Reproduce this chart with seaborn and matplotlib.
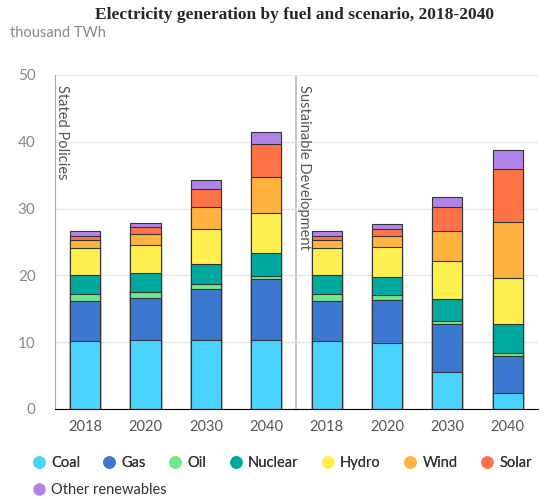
import numpy as np
import pandas as pd
import seaborn as sns
import matplotlib.pyplot as plt
from matplotlib.lines import Line2D

# data (thousand TWh)
years = ["2018", "2020", "2030", "2040"]
scenarios = ["Stated Policies", "Sustainable Development"]
fuels = ["Coal", "Gas", "Oil", "Nuclear", "Hydro", "Wind", "Solar", "Other renewables"]
colors = ["#4ad3ff", "#3d78d0", "#6de88b", "#00a99d", "#fff04f", "#ffb33f", "#ff7346", "#b084ea"]

coal    = [10.2, 10.4, 10.4, 10.4, 10.2, 9.9, 5.6, 2.4]
gas     = [6.0, 6.2, 7.6, 9.0, 6.0, 6.4, 7.1, 5.6]
oil     = [1.0, 0.9, 0.7, 0.5, 1.0, 0.7, 0.4, 0.4]
nuclear = [2.8, 2.8, 3.0, 3.5, 2.8, 2.8, 3.4, 4.3]
hydro   = [4.1, 4.3, 5.3, 6.0, 4.1, 4.5, 5.7, 6.9]
wind    = [1.2, 1.6, 3.2, 5.4, 1.2, 1.6, 4.4, 8.4]
solar   = [0.6, 1.0, 2.7, 4.8, 0.6, 1.0, 3.6, 8.0]
other   = [0.8, 0.6, 1.4, 1.9, 0.8, 0.8, 1.6, 2.8]

series = [coal, gas, oil, nuclear, hydro, wind, solar, other]
cats = [f"{s[:2]} {y}" for s in ["SP", "SD"] for y in years]
df = pd.DataFrame(dict(zip(fuels, series)), index=cats)
cum = df.cumsum(axis=1)

sns.set_style("white")
plt.rcParams["font.family"] = ["Lato", "DejaVu Sans"]

fig = plt.figure(figsize=(5.5, 4.99), dpi=100)
ax = fig.add_axes([0.1, 0.1804, 0.878, 0.6693])

# stacked bars: draw cumulative totals from the top layer down
for fuel, col in reversed(list(zip(fuels, colors))):
    sns.barplot(x=cum.index, y=cum[fuel].values, color=col, width=0.5,
                edgecolor="#333333", linewidth=0.8, saturation=1, ax=ax)

ax.set_ylim(0, 50)
ax.set_xlim(-0.5, 7.5)
ax.set_yticks([0, 10, 20, 30, 40, 50])
ax.yaxis.grid(True, color="#e6e6e6", linewidth=1)
ax.set_axisbelow(True)
ax.set_xlabel("")
ax.set_ylabel("")
ax.tick_params(axis="y", length=0, labelsize=11, labelcolor="#888888", pad=14)

ax.set_xticks(range(8))
ax.set_xticklabels(years * 2)
ax.tick_params(axis="x", which="major", length=0, labelsize=10.5, labelcolor="#555555", pad=8)
ax.set_xticks(np.arange(-0.5, 8, 1), minor=True)
ax.tick_params(axis="x", which="minor", length=7, width=1, color="black", direction="out")

for side in ["top", "right"]:
    ax.spines[side].set_visible(False)
ax.spines["left"].set_color("#aaaaaa")
ax.spines["bottom"].set_color("black")
ax.axvline(3.5, color="#bbbbbb", linewidth=1.2, zorder=0)

ax.text(-0.38, 48.5, scenarios[0], rotation=270, va="top", ha="center",
        fontsize=10.5, color="#555555")
ax.text(3.62, 48.5, scenarios[1], rotation=270, va="top", ha="center",
        fontsize=10.5, color="#555555")

fig.text(0.535, 0.97, "Electricity generation by fuel and scenario, 2018-2040",
         ha="center", va="center", fontsize=12.5, fontweight="bold",
         family="Liberation Serif")
fig.text(0.018, 0.934, "thousand TWh", ha="left", va="center", fontsize=10.5, color="#888888")

handles = [Line2D([], [], marker="o", linestyle="", markersize=8, color=c) for c in colors]
leg1 = fig.legend(handles[:7], fuels[:7], loc="center left", bbox_to_anchor=(0.033, 0.072),
                  ncol=7, frameon=False, fontsize=10.5, handletextpad=0.35,
                  columnspacing=1.5, handlelength=1.0, labelcolor="#333333")
leg2 = fig.legend(handles[7:], fuels[7:], loc="center left", bbox_to_anchor=(0.033, 0.018),
                  ncol=1, frameon=False, fontsize=10.5, handletextpad=0.35, handlelength=1.0,
                  labelcolor="#333333")
fig.add_artist(leg1)

fig.savefig("out.png", dpi=100)
